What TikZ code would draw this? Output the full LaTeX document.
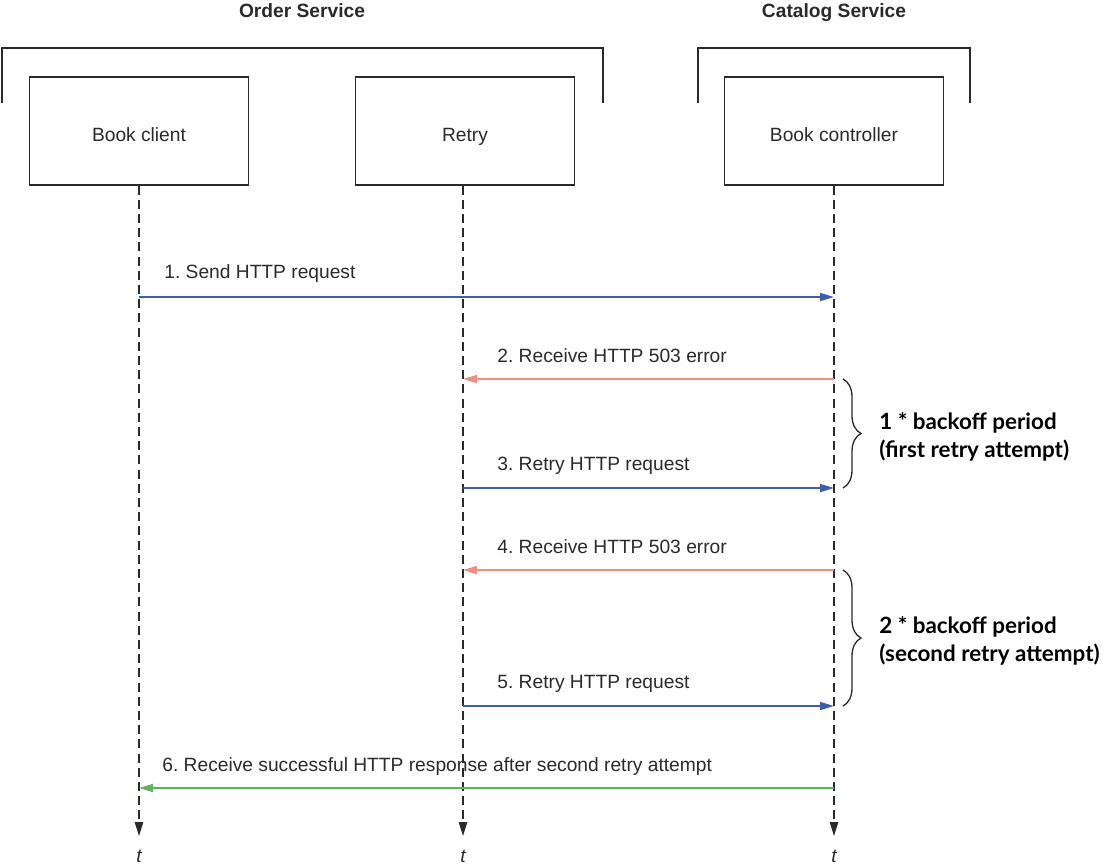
\documentclass[tikz,border=0pt]{standalone}
\usepackage{fontspec}
\setmainfont{Liberation Sans}
\newfontfamily\bracefont{Lato}
\usetikzlibrary{calc, positioning}
\usetikzlibrary{arrows.meta}
\usetikzlibrary{decorations.pathreplacing}

\definecolor{reqblue}{HTML}{3F5DAD}
\definecolor{errred}{HTML}{F28C80}
\definecolor{okgreen}{HTML}{5DB35D}
\definecolor{inkgray}{HTML}{2A2A2A}

\begin{document}
\frenchspacing
\begin{tikzpicture}[x=0.5pt, y=-0.5pt,
  every node/.style={font=\fontsize{9.6}{11}\selectfont, text=inkgray},
  actor/.style={draw=inkgray, line width=0.65pt, minimum width=109.5pt, minimum height=54pt,
    text height=10.4pt, text depth=0pt},
  group/.style={draw=inkgray, line width=0.65pt},
  lifeline/.style={draw=inkgray, line width=0.65pt, dash pattern=on 4.5pt off 2.6pt,
    -{Triangle[length=7pt, width=4.2pt]}},
  msg/.style={line width=0.9pt, -{Triangle[length=7pt, width=4pt]}},
  msglabel/.style={anchor=base west, inner sep=0pt},
  period/.style={draw=inkgray, line width=0.65pt,
    decorate, decoration={brace, amplitude=9pt}},
  periodlabel/.style={anchor=west, align=left, inner sep=0pt,
    font=\bracefont\bfseries\fontsize{11.2}{14}\selectfont, text=black}
]
\useasboundingbox (0,0) rectangle (1103,864);

% services
\node[anchor=base, font=\bfseries\fontsize{9.6}{11}\selectfont] (ordertitle) at (302,17) {Order Service};
\node[anchor=base, font=\bfseries\fontsize{9.6}{11}\selectfont] (catalogtitle) at (834,17) {Catalog Service};
\draw[group] (2,103) -- (2,48) -- (603,48) -- (603,103);
\draw[group] (698,103) -- (698,48) -- (970,48) -- (970,103);

% participants
\node[actor] (client) at (139,131) {Book client};
\node[actor] (retry) at (465,131) {Retry};
\node[actor] (controller) at (834,131) {Book controller};

% lifelines
\coordinate (clientend) at (139,836);
\coordinate (retryend) at (463,836);
\coordinate (controllerend) at (834,836);
\draw[lifeline] (client.south) -- (clientend);
\draw[lifeline] ([xshift=-1pt]retry.south) -- (retryend);
\draw[lifeline] (controller.south) -- (controllerend);
\node[anchor=base, font=\itshape\fontsize{9.6}{11}\selectfont] (tclient) at (139,862) {t};
\node[anchor=base, font=\itshape\fontsize{9.6}{11}\selectfont] (tretry) at (463,862) {t};
\node[anchor=base, font=\itshape\fontsize{9.6}{11}\selectfont] (tcontroller) at (834,862) {t};

% messages
\coordinate (y1) at (0,297);
\coordinate (y2) at (0,379);
\coordinate (y3) at (0,488);
\coordinate (y4) at (0,570);
\coordinate (y5) at (0,706);
\coordinate (y6) at (0,788);

\draw[msg, reqblue] (client |- y1) -- (controller |- y1);
\node[msglabel] (m1) at (164,278) {1. Send HTTP request};

\draw[msg, errred] (controller |- y2) -- (retryend |- y2);
\node[msglabel] (m2) at (497,362) {2. Receive HTTP 503 error};

\draw[msg, reqblue] (retryend |- y3) -- (controller |- y3);
\node[msglabel] (m3) at (497,470) {3. Retry HTTP request};

\draw[msg, errred] (controller |- y4) -- (retryend |- y4);
\node[msglabel] (m4) at (497,553) {4. Receive HTTP 503 error};

\draw[msg, reqblue] (retryend |- y5) -- (controller |- y5);
\node[msglabel] (m5) at (497,688) {5. Retry HTTP request};

\draw[msg, okgreen] (controller |- y6) -- (client |- y6);
\node[msglabel] (m6) at (162,771) {6. Receive successful HTTP response after second retry attempt};

% backoff periods
\draw[period] (843,379) -- (843,488) coordinate[midway] (b1);
\node[periodlabel] (p1) at (879,437) {1 * backoff period\\(first retry attempt)};

\draw[period] (843,570) -- (843,706) coordinate[midway] (b2);
\node[periodlabel] (p2) at (879,641) {2 * backoff period\\(second retry attempt)};
\end{tikzpicture}
\end{document}
